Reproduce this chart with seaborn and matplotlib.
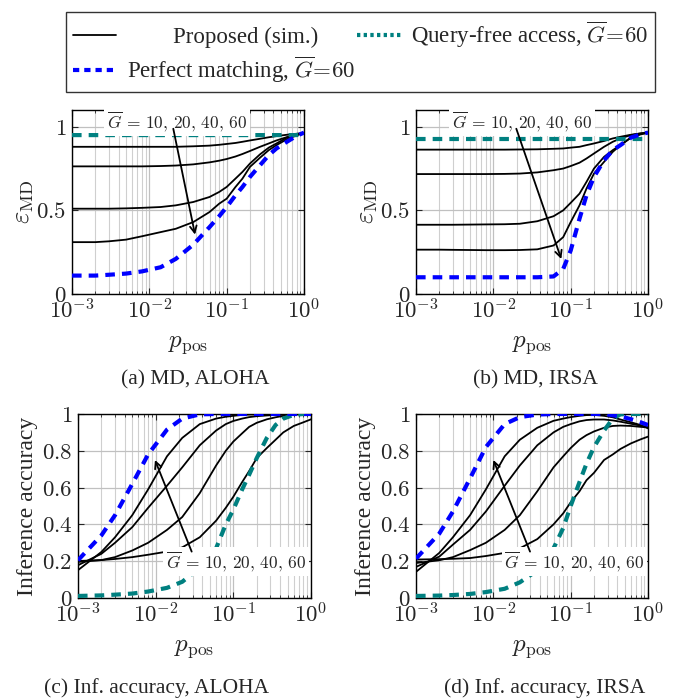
import matplotlib
matplotlib.use('Agg')
import matplotlib.pyplot as plt
from matplotlib.lines import Line2D
import numpy as np
import seaborn as sns

# shared p_pos grid
p_pos = [0.001, 0.002, 0.003, 0.005, 0.008, 0.014, 0.022, 0.037, 0.06, 0.08,
         0.1, 0.13, 0.16, 0.2, 0.27, 0.35, 0.44, 0.6, 0.8, 1.0]

# (a) MD, ALOHA
a_perfect = [0.11, 0.11, 0.115, 0.122, 0.135, 0.16, 0.21, 0.295, 0.4, 0.465,
             0.52, 0.59, 0.64, 0.7, 0.77, 0.83, 0.87, 0.91, 0.945, 0.965]
a_qfree = [0.95] * 19 + [0.955]
a_g10 = [0.88, 0.88, 0.88, 0.88, 0.88, 0.88, 0.88, 0.883, 0.887, 0.892,
         0.897, 0.903, 0.91, 0.918, 0.928, 0.937, 0.944, 0.952, 0.958, 0.963]
a_g20 = [0.763, 0.763, 0.763, 0.763, 0.763, 0.765, 0.768, 0.775, 0.787, 0.797,
         0.807, 0.822, 0.837, 0.855, 0.88, 0.9, 0.918, 0.938, 0.953, 0.963]
a_g40 = [0.51, 0.51, 0.51, 0.512, 0.515, 0.52, 0.53, 0.55, 0.58, 0.61,
         0.64, 0.69, 0.73, 0.78, 0.835, 0.875, 0.9, 0.935, 0.952, 0.963]
a_g60 = [0.31, 0.31, 0.315, 0.325, 0.345, 0.37, 0.39, 0.43, 0.49, 0.54,
         0.57, 0.64, 0.69, 0.76, 0.815, 0.86, 0.89, 0.925, 0.948, 0.963]

# (b) MD, IRSA
b_perfect = [0.1, 0.1, 0.1, 0.1, 0.1, 0.1, 0.1, 0.1, 0.105, 0.15,
             0.26, 0.45, 0.59, 0.7, 0.8, 0.86, 0.89, 0.935, 0.955, 0.965]
b_qfree = [0.928] * 20
b_g10 = [0.863, 0.863, 0.863, 0.863, 0.863, 0.863, 0.864, 0.865, 0.868, 0.87,
         0.875, 0.88, 0.89, 0.9, 0.915, 0.93, 0.94, 0.952, 0.96, 0.965]
b_g20 = [0.717, 0.717, 0.717, 0.717, 0.717, 0.718, 0.72, 0.727, 0.74, 0.75,
         0.765, 0.785, 0.81, 0.84, 0.88, 0.91, 0.93, 0.95, 0.96, 0.965]
b_g40 = [0.414, 0.414, 0.414, 0.415, 0.416, 0.417, 0.42, 0.435, 0.465, 0.5,
         0.545, 0.6, 0.67, 0.75, 0.82, 0.86, 0.89, 0.935, 0.955, 0.965]
b_g60 = [0.265, 0.265, 0.264, 0.263, 0.262, 0.262, 0.263, 0.267, 0.29, 0.34,
         0.43, 0.53, 0.63, 0.72, 0.79, 0.85, 0.89, 0.935, 0.955, 0.965]

# (c) Inference accuracy, ALOHA
c_perfect = [0.205, 0.34, 0.45, 0.62, 0.78, 0.915, 0.975, 0.998, 1.0, 1.0,
             1.0, 1.0, 1.0, 1.0, 1.0, 1.0, 1.0, 1.0, 1.0, 1.0]
c_qfree = [0.011, 0.014, 0.018, 0.024, 0.035, 0.055, 0.088, 0.165, 0.27, 0.4,
           0.48, 0.59, 0.67, 0.76, 0.87, 0.94, 0.975, 0.995, 1.0, 1.0]
c_g10 = [0.151, 0.25, 0.33, 0.45, 0.59, 0.77, 0.87, 0.945, 0.975, 0.985,
         0.99, 0.995, 0.997, 0.998, 0.999, 1.0, 1.0, 1.0, 1.0, 1.0]
c_g20 = [0.178, 0.24, 0.3, 0.385, 0.49, 0.61, 0.71, 0.83, 0.91, 0.945,
         0.962, 0.975, 0.983, 0.988, 0.992, 0.995, 0.997, 0.999, 1.0, 1.0]
c_g40 = [0.196, 0.206, 0.222, 0.258, 0.3, 0.37, 0.44, 0.57, 0.72, 0.8,
         0.85, 0.895, 0.93, 0.952, 0.971, 0.982, 0.99, 0.996, 0.999, 1.0]
c_g60 = [0.201, 0.206, 0.212, 0.222, 0.235, 0.252, 0.275, 0.33, 0.42, 0.49,
         0.55, 0.63, 0.69, 0.76, 0.815, 0.86, 0.9, 0.935, 0.955, 0.971]

# (d) Inference accuracy, IRSA
d_perfect = [0.214, 0.35, 0.47, 0.65, 0.82, 0.945, 0.983, 0.997, 1.0, 1.0,
             1.0, 1.0, 1.0, 1.0, 1.0, 0.993, 0.987, 0.972, 0.955, 0.94]
d_qfree = [0.011, 0.013, 0.016, 0.022, 0.032, 0.05, 0.085, 0.15, 0.27, 0.38,
           0.5, 0.63, 0.73, 0.82, 0.91, 0.975, 0.998, 1.0, 1.0, 1.0]
d_g10 = [0.142, 0.245, 0.33, 0.45, 0.59, 0.77, 0.86, 0.925, 0.963, 0.975,
         0.983, 0.99, 0.994, 0.995, 0.99, 0.982, 0.97, 0.955, 0.94, 0.922]
d_g20 = [0.169, 0.225, 0.29, 0.37, 0.47, 0.61, 0.72, 0.83, 0.9, 0.93,
         0.945, 0.96, 0.967, 0.97, 0.97, 0.965, 0.958, 0.947, 0.937, 0.927]
d_g40 = [0.19, 0.205, 0.222, 0.26, 0.3, 0.37, 0.45, 0.58, 0.71, 0.77,
         0.815, 0.86, 0.885, 0.905, 0.925, 0.935, 0.937, 0.935, 0.93, 0.927]
d_g60 = [0.209, 0.211, 0.213, 0.217, 0.228, 0.245, 0.27, 0.32, 0.4, 0.46,
         0.52, 0.58, 0.64, 0.68, 0.75, 0.78, 0.81, 0.84, 0.862, 0.877]

xtick_vals = [1e-3, 1e-2, 1e-1, 1e0]
xtick_labels = [r'$10^{-3}$', r'$10^{-2}$', r'$10^{-1}$', r'$10^{0}$']
md_yticks = [0, 0.5, 1]
md_ylabels = [r'$0$', r'$0.5$', r'$1$']
acc_yticks = [0, 0.2, 0.4, 0.6, 0.8, 1]
acc_ylabels = [r'$0$', r'$0.2$', r'$0.4$', r'$0.6$', r'$0.8$', r'$1$']

captions = ['(a) MD, ALOHA', '(b) MD, IRSA',
            '(c) Inf. accuracy, ALOHA', '(d) Inf. accuracy, IRSA']
legend_labels = ['        Proposed (sim.)',
                 r'Perfect matching, $\overline{G}\!=\!60$',
                 r'Query-free access, $\overline{G}\!=\!60$']
anno_text = r'$\overline{G}\,=\,10,\,20,\,40,\,60$'

sns.set_theme(style='ticks')
plt.rcParams['font.family'] = ['Liberation Serif', 'DejaVu Serif']
plt.rcParams['mathtext.fontset'] = 'cm'

BLUE = '#0000ff'
TEAL = '#008080'
FS = 16.5
CAP_FS = 15.5

fig = plt.figure(figsize=(6.78, 6.98), dpi=100)
ax_a = fig.add_axes([0.1062, 0.5788, 0.3422, 0.2636])
ax_b = fig.add_axes([0.6136, 0.5788, 0.3422, 0.2636])
ax_c = fig.add_axes([0.1150, 0.1433, 0.3437, 0.2636])
ax_d = fig.add_axes([0.6136, 0.1433, 0.3422, 0.2636])

panels = [
    (ax_a, a_perfect, a_qfree, [a_g10, a_g20, a_g40, a_g60], 'md'),
    (ax_b, b_perfect, b_qfree, [b_g10, b_g20, b_g40, b_g60], 'md'),
    (ax_c, c_perfect, c_qfree, [c_g10, c_g20, c_g40, c_g60], 'acc'),
    (ax_d, d_perfect, d_qfree, [d_g10, d_g20, d_g40, d_g60], 'acc'),
]

for ax, perf, qfree, props, kind in panels:
    ax.set_xscale('log')
    for vals in props:
        sns.lineplot(x=p_pos, y=vals, ax=ax, color='black', lw=1.3,
                     legend=False, zorder=3)
    sns.lineplot(x=p_pos, y=qfree, ax=ax, color=TEAL, lw=3.0,
                 linestyle=(0, (2.3, 1.7)), legend=False, zorder=4)
    sns.lineplot(x=p_pos, y=perf, ax=ax, color=BLUE, lw=3.0,
                 linestyle=(0, (2.3, 1.7)), legend=False, zorder=4)
    ax.set_xlim(1e-3, 1)
    ax.set_xticks(xtick_vals)
    ax.set_xticklabels(xtick_labels)
    if kind == 'md':
        ax.set_ylim(0, 1.1)
        ax.set_yticks(md_yticks)
        ax.set_yticklabels(md_ylabels)
        ax.set_ylabel(r'$\varepsilon_{\mathrm{MD}}$', fontsize=19, labelpad=0)
    else:
        ax.set_ylim(0, 1)
        ax.set_yticks(acc_yticks)
        ax.set_yticklabels(acc_ylabels)
        ax.set_ylabel('Inference accuracy', fontsize=17, labelpad=3)
    ax.set_xlabel(r'$p_{\mathrm{pos}}$', fontsize=18, labelpad=7)
    ax.grid(True, which='major', color='#c0c0c0', lw=0.9)
    ax.grid(True, which='minor', axis='x', color='#cfcfcf', lw=0.8)
    ax.tick_params(which='both', direction='in', top=True, right=True,
                   labelsize=FS, pad=4)
    ax.tick_params(which='major', length=4, width=0.8)
    ax.tick_params(which='minor', length=2, width=0.6)
    for s in ax.spines.values():
        s.set_linewidth(1.0)
        s.set_color('black')
    ax.set_axisbelow(True)

box = dict(boxstyle='square,pad=0.15', fc='white', ec='none')
arrow = dict(arrowstyle='->', color='black', lw=1.3, shrinkA=0, shrinkB=0)
AFS = 12.5

ax_a.text(0.0228, 1.03, anno_text, fontsize=AFS, ha='center', va='center',
          bbox=box, zorder=6)
ax_a.annotate('', xy=(0.039, 0.355), xytext=(0.0204, 0.988),
              arrowprops=arrow, zorder=7)
ax_b.text(0.0235, 1.03, anno_text, fontsize=AFS, ha='center', va='center',
          bbox=box, zorder=6)
ax_b.annotate('', xy=(0.0756, 0.209), xytext=(0.0198, 0.988),
              arrowprops=arrow, zorder=7)
ax_c.text(0.1087, 0.197, anno_text, fontsize=AFS, ha='center', va='center',
          bbox=box, zorder=6)
ax_c.annotate('', xy=(0.0098, 0.75), xytext=(0.0291, 0.252),
              arrowprops=arrow, zorder=7)
ax_d.text(0.111, 0.197, anno_text, fontsize=AFS, ha='center', va='center',
          bbox=box, zorder=6)
ax_d.annotate('', xy=(0.01, 0.75), xytext=(0.0298, 0.252),
              arrowprops=arrow, zorder=7)

fig.text(195 / 678, 1 - 380 / 698, captions[0], fontsize=CAP_FS, ha='center', va='center')
fig.text(535 / 678, 1 - 380 / 698, captions[1], fontsize=CAP_FS, ha='center', va='center')
fig.text(157 / 678, 1 - 688 / 698, captions[2], fontsize=CAP_FS, ha='center', va='center')
fig.text(545 / 678, 1 - 688 / 698, captions[3], fontsize=CAP_FS, ha='center', va='center')

handles = [
    Line2D([], [], color='black', lw=1.3),
    Line2D([], [], color=BLUE, lw=3.0, linestyle=(0, (1.5, 1.2))),
    Line2D([], [], color=TEAL, lw=3.0, linestyle=(0, (0.8, 0.8))),
]
leg = fig.legend(handles, legend_labels, ncol=2, loc='upper left',
                 bbox_to_anchor=(66 / 678, 1 - 12 / 698, 589 / 678, 0.0),
                 mode='expand', fontsize=FS, frameon=True, fancybox=False,
                 edgecolor='black', handlelength=1.9, borderaxespad=0,
                 borderpad=0.3, columnspacing=1.0, labelspacing=0.3,
                 handletextpad=0.45)
leg.get_frame().set_linewidth(1.0)

fig.savefig('out.png', dpi=100)
